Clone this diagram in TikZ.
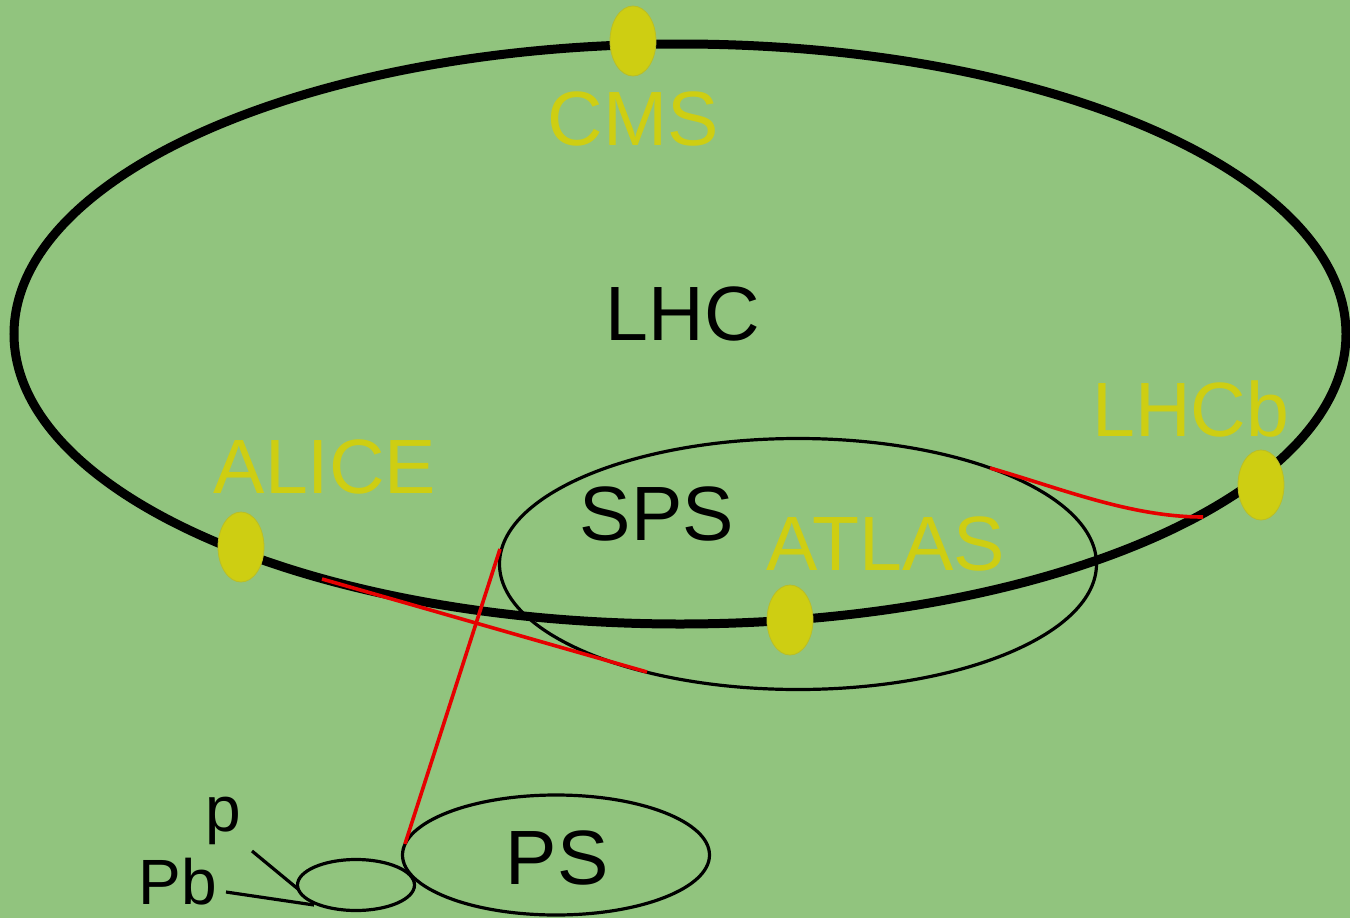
\documentclass[tikz,border=0pt]{standalone}
\usepackage{fontspec}
\setmainfont{Liberation Sans}
\usetikzlibrary{shapes.geometric}
\definecolor{bg}{RGB}{145,196,126}
\definecolor{det}{RGB}{206,206,18}
\definecolor{detline}{RGB}{185,190,40}
\definecolor{beam}{RGB}{230,0,0}
\tikzset{
  ring/.style={draw=black, ellipse, inner sep=0pt, fill=none},
  dot/.style={ellipse, fill=det, draw=detline, line width=0.8pt, minimum width=46pt, minimum height=70pt, inner sep=0pt},
  biglabel/.style={font=\fontsize{77}{80}\selectfont, anchor=base, inner sep=0pt},
  detlabel/.style={biglabel, text=det},
  beamline/.style={draw=beam, line width=3.6pt},
  feed/.style={draw=black, line width=3.2pt}
}
\begin{document}
\begin{tikzpicture}[x=1pt,y=-1pt]
\fill[bg] (0,0) rectangle (1350,918);
\useasboundingbox (0,0) rectangle (1350,918);

% rings
\node[ring, line width=9pt, minimum width=1332pt, minimum height=580pt] (lhc) at (680,334) {};
\node[ring, line width=3.2pt, minimum width=597pt, minimum height=251pt] (sps) at (798,564) {};
\node[ring, line width=3.2pt, minimum width=307pt, minimum height=120pt] (ps) at (556,855) {};
\node[ring, line width=3.2pt, minimum width=117pt, minimum height=51pt] (booster) at (356,885) {};

% beam transfer lines
\coordinate (a1) at (322,579);
\coordinate (a2) at (647,672);
\coordinate (s1) at (500,549);
\coordinate (s2) at (405,844);
\coordinate (b1) at (990,468);
\coordinate (b2) at (1203,517);
\draw[beamline] (a1) -- (a2);
\draw[beamline] (s2) -- (s1);
\draw[beamline] (b1) .. controls (1060,488) and (1130,517) .. (b2);

% injection lines
\coordinate (p1) at (252,851);
\coordinate (p2) at (298,889);
\coordinate (pb1) at (226,892);
\coordinate (pb2) at (314,905);
\draw[feed] (p1) -- (p2);
\draw[feed] (pb1) -- (pb2);

% detectors
\node[dot] (cms) at (633,41) {};
\node[dot] (alice) at (241,547) {};
\node[dot] (atlas) at (790,620) {};
\node[dot] (lhcb) at (1261,485) {};

% labels
\node[detlabel] (cmsl) at (633,145) {CMS};
\node[detlabel] (alicel) at (325,493) {ALICE};
\node[detlabel] (atlasl) at (886,570) {ATLAS};
\node[detlabel] (lhcbl) at (1191,436) {LHCb};
\node[biglabel] (lhcl) at (683,340) {LHC};
\node[biglabel] (spsl) at (657,540) {SPS};
\node[biglabel] (psl) at (557,884) {PS};
\node[biglabel, font=\fontsize{64}{70}\selectfont] (pl) at (223,831) {p};
\node[biglabel, font=\fontsize{64}{70}\selectfont] (pbl) at (178,904) {Pb};
\end{tikzpicture}
\end{document}
